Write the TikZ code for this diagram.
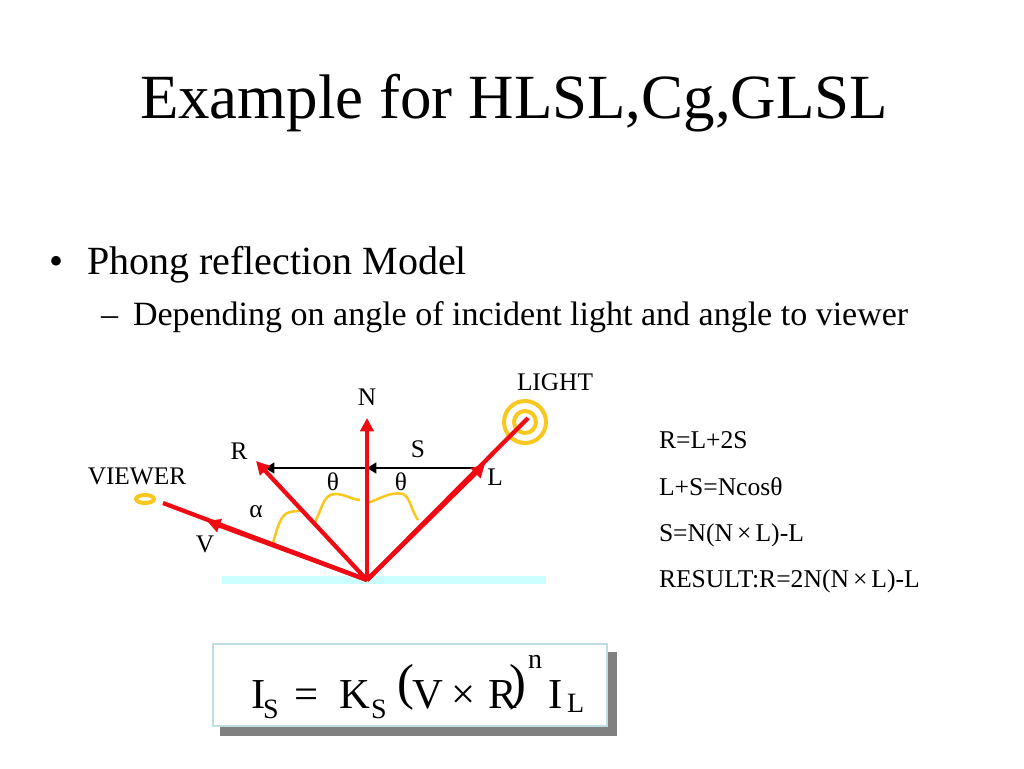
\documentclass[tikz,border=0pt]{standalone}
\usepackage{fontspec}
\setmainfont{Liberation Serif}
\usetikzlibrary{arrows.meta}
\definecolor{rayred}{RGB}{240,10,20}
\definecolor{curveyellow}{RGB}{248,200,30}
\definecolor{barcyan}{RGB}{204,255,255}
\definecolor{boxblue}{RGB}{190,222,228}
\definecolor{shadowgray}{RGB}{128,128,128}
\newcommand{\crosssign}{\kern3pt×\kern3pt}
\tikzset{
    txt/.style={anchor=base west, inner sep=0pt, outer sep=0pt},
    lbl/.style={anchor=base, inner sep=0pt, outer sep=0pt, font=\fontsize{19}{21}\selectfont},
    frm/.style={anchor=base west, inner sep=0pt, outer sep=0pt, font=\fontsize{32}{34}\selectfont},
    subtxt/.style={anchor=base west, inner sep=0pt, outer sep=0pt, font=\fontsize{21}{23}\selectfont},
    paren/.style={anchor=base west, inner sep=0pt, outer sep=0pt, font=\fontsize{38}{40}\selectfont},
    rayline/.style={rayred, line width=3.2pt},
    raytip/.style={-{Triangle[length=10pt, width=10pt]}},
    spanline/.style={black, line width=2.2pt, -{Triangle[length=7pt, width=8pt]}},
    arcmark/.style={curveyellow, line width=1.9pt}
}
\begin{document}
\begin{tikzpicture}[x=0.75pt, y=-0.75pt]
    \useasboundingbox (0, 0) rectangle (1024, 768);
    \fill[white] (0, 0) rectangle (1024, 768);
    \coordinate (o) at (367, 580);
    \coordinate (n) at (367, 418);
    \coordinate (r) at (256, 461);
    \coordinate (v) at (163, 503);
    \coordinate (vm) at (207, 521);
    \coordinate (l) at (528, 418);
    \coordinate (lm) at (485, 464);
    \coordinate (sl) at (483, 468);
    \coordinate (sm) at (367, 468);
    \coordinate (sr) at (265, 468);
    % title and bullets
    \node[txt, font=\fontsize{47.2}{50}\selectfont] (title) at (140, 118) {Example for HLSL,Cg,GLSL};
    \node[txt, font=\fontsize{30}{32}\selectfont] (bullet) at (49, 274) {•};
    \node[txt, font=\fontsize{30}{32}\selectfont] (phong) at (87, 274) {Phong reflection Model};
    \node[txt, font=\fontsize{25.5}{28}\selectfont] (dash) at (101, 325) {–};
    \node[txt, font=\fontsize{25.5}{28}\selectfont] (depend) at (133, 325) {Depending on angle of incident light and angle to viewer};
    % surface
    \fill[barcyan] (222, 576) rectangle (546, 584);
    % light and viewer
    \draw[curveyellow, line width=3pt] (525, 422) circle[radius=21];
    \draw[curveyellow, line width=3pt] (525, 422) circle[radius=11];
    \draw[curveyellow, line width=3pt] (145, 499) ellipse[x radius=9, y radius=4];
    % angle marks
    \draw[arcmark] (273, 543) .. controls (278, 525) and (281, 514) .. (290, 512) .. controls (295, 511) and (299, 511) .. (301, 510);
    \draw[arcmark] (313, 525) .. controls (322, 512) and (322, 494) .. (335, 494) .. controls (345, 494) and (350, 499) .. (360, 500);
    \draw[arcmark] (367, 503) .. controls (378, 500) and (390, 491) .. (403, 494) .. controls (410, 497) and (411, 510) .. (418, 520);
    % rays
    \draw[spanline] (sl) -- (sm);
    \draw[spanline] (sm) -- (sr);
    \draw[rayline, raytip] (o) -- (n);
    \draw[rayline, raytip] (o) -- (r);
    \draw[rayline] (o) -- (v);
    \draw[rayline, raytip] (o) -- (vm);
    \draw[rayline] (o) -- (l);
    \draw[rayline, raytip] (o) -- (lm);
    % labels
    \node[lbl] (nlabel) at (367, 405) {N};
    \node[lbl] (rlabel) at (239, 459) {R};
    \node[lbl] (slabel) at (418, 457) {S};
    \node[lbl] (llabel) at (495, 485) {L};
    \node[lbl] (vlabel) at (205, 552) {V};
    \node[lbl] (light) at (555, 390) {LIGHT};
    \node[lbl] (viewer) at (137, 484) {VIEWER};
    \node[lbl] (thetal) at (333, 490) {θ};
    \node[lbl] (thetar) at (401, 490) {θ};
    \node[lbl] (alpha) at (256, 517) {α};
    % equations
    \node[txt, font=\fontsize{19.2}{21}\selectfont] (eqa) at (659, 448) {R=L+2S};
    \node[txt, font=\fontsize{19.2}{21}\selectfont] (eqb) at (659, 495) {L+S=Ncosθ};
    \node[txt, font=\fontsize{19.2}{21}\selectfont] (eqc) at (659, 541) {S=N(N\crosssign L)-L};
    \node[txt, font=\fontsize{19.2}{21}\selectfont] (eqd) at (659, 587) {RESULT:R=2N(N\crosssign L)-L};
    % formula box
    \fill[shadowgray] (220, 652) rectangle (617, 736);
    \draw[boxblue, line width=2pt, fill=white] (213, 644) rectangle (607, 726);
    \node[frm] (is) at (251, 708) {I};
    \node[subtxt] (iss) at (263, 718) {S};
    \node[frm] (eq) at (294, 708) {=};
    \node[frm] (ks) at (339, 708) {K};
    \node[subtxt] (kss) at (371, 718) {S};
    \node[paren] (lp) at (397, 699) {(};
    \node[frm] (vv) at (412, 708) {V};
    \node[frm] (times) at (451, 708) {×};
    \node[frm] (rr) at (488, 708) {R};
    \node[paren] (rp) at (509, 699) {)};
    \node[subtxt] (nn) at (528, 668) {n};
    \node[frm] (il) at (548, 708) {I};
    \node[subtxt] (ils) at (567, 712) {L};
\end{tikzpicture}
\end{document}
